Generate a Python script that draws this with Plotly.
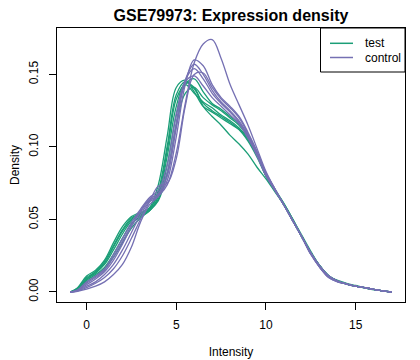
import plotly.graph_objects as go

x_grid = [-0.9, -0.5, 0, 0.5, 1, 1.5, 2, 2.5, 3, 3.5, 4, 4.5, 5, 5.5, 6, 6.5, 7, 7.5, 8, 8.5,
          9, 9.5, 10, 10.5, 11, 11.5, 12, 12.5, 13, 13.5, 14, 14.5, 15, 15.5, 16, 16.5, 17]

test_curves = [
    [0, 0.003, 0.011, 0.015, 0.022, 0.034, 0.045, 0.052, 0.055, 0.058, 0.074, 0.108, 0.141, 0.146, 0.138, 0.128, 0.124, 0.120, 0.116, 0.112, 0.105, 0.094, 0.081, 0.071, 0.061, 0.050, 0.038, 0.027, 0.018, 0.011, 0.0075, 0.0055, 0.004, 0.003, 0.0018, 0.0008, 0],
    [0, 0.002, 0.009, 0.013, 0.019, 0.029, 0.040, 0.049, 0.053, 0.056, 0.066, 0.094, 0.128, 0.144, 0.141, 0.128, 0.121, 0.115, 0.108, 0.102, 0.095, 0.086, 0.078, 0.069, 0.060, 0.050, 0.039, 0.028, 0.018, 0.011, 0.008, 0.006, 0.0045, 0.003, 0.0018, 0.0008, 0],
    [0, 0.002, 0.008, 0.012, 0.017, 0.026, 0.037, 0.047, 0.052, 0.056, 0.064, 0.088, 0.122, 0.143, 0.147, 0.138, 0.130, 0.126, 0.121, 0.116, 0.108, 0.096, 0.081, 0.070, 0.060, 0.049, 0.038, 0.027, 0.018, 0.011, 0.0075, 0.0055, 0.004, 0.0028, 0.0016, 0.0007, 0],
    [0, 0.002, 0.009, 0.014, 0.020, 0.031, 0.042, 0.050, 0.054, 0.057, 0.068, 0.098, 0.133, 0.143, 0.137, 0.131, 0.127, 0.122, 0.118, 0.113, 0.106, 0.095, 0.080, 0.070, 0.061, 0.050, 0.038, 0.027, 0.018, 0.011, 0.0075, 0.0055, 0.004, 0.003, 0.0018, 0.0008, 0],
    [0, 0.0015, 0.007, 0.011, 0.016, 0.024, 0.034, 0.044, 0.051, 0.056, 0.063, 0.082, 0.115, 0.137, 0.141, 0.134, 0.129, 0.125, 0.120, 0.115, 0.107, 0.095, 0.080, 0.070, 0.060, 0.049, 0.038, 0.027, 0.018, 0.011, 0.0075, 0.0055, 0.004, 0.0028, 0.0016, 0.0007, 0],
    [0, 0.0025, 0.010, 0.014, 0.021, 0.032, 0.043, 0.051, 0.054, 0.057, 0.070, 0.101, 0.136, 0.145, 0.140, 0.130, 0.125, 0.121, 0.117, 0.112, 0.104, 0.093, 0.080, 0.070, 0.060, 0.049, 0.038, 0.027, 0.018, 0.011, 0.0075, 0.0055, 0.004, 0.003, 0.0018, 0.0008, 0],
]

control_curves = [
    [0, 0.0005, 0.002, 0.004, 0.007, 0.012, 0.019, 0.031, 0.048, 0.060, 0.066, 0.074, 0.096, 0.130, 0.158, 0.171, 0.174, 0.161, 0.143, 0.129, 0.115, 0.099, 0.083, 0.071, 0.060, 0.049, 0.038, 0.026, 0.017, 0.010, 0.007, 0.0055, 0.004, 0.003, 0.0018, 0.0008, 0],
    [0, 0.001, 0.004, 0.007, 0.012, 0.019, 0.029, 0.041, 0.053, 0.062, 0.066, 0.077, 0.107, 0.143, 0.160, 0.156, 0.143, 0.134, 0.128, 0.121, 0.110, 0.097, 0.082, 0.071, 0.060, 0.049, 0.038, 0.026, 0.017, 0.010, 0.007, 0.0055, 0.004, 0.003, 0.0018, 0.0008, 0],
    [0, 0.001, 0.005, 0.009, 0.014, 0.022, 0.033, 0.045, 0.055, 0.063, 0.067, 0.080, 0.113, 0.146, 0.157, 0.150, 0.139, 0.131, 0.125, 0.118, 0.108, 0.095, 0.081, 0.070, 0.060, 0.049, 0.038, 0.027, 0.017, 0.011, 0.0075, 0.0055, 0.004, 0.003, 0.0018, 0.0008, 0],
    [0, 0.0012, 0.006, 0.010, 0.015, 0.024, 0.035, 0.046, 0.056, 0.064, 0.068, 0.083, 0.117, 0.146, 0.154, 0.147, 0.137, 0.130, 0.124, 0.117, 0.107, 0.094, 0.081, 0.070, 0.060, 0.049, 0.038, 0.027, 0.018, 0.011, 0.0075, 0.0055, 0.004, 0.003, 0.0018, 0.0008, 0],
    [0, 0.0015, 0.007, 0.011, 0.016, 0.026, 0.037, 0.048, 0.057, 0.065, 0.070, 0.088, 0.123, 0.145, 0.149, 0.142, 0.134, 0.128, 0.122, 0.116, 0.106, 0.094, 0.080, 0.070, 0.060, 0.049, 0.038, 0.027, 0.018, 0.011, 0.0075, 0.0055, 0.004, 0.003, 0.0018, 0.0008, 0],
    [0, 0.0008, 0.003, 0.006, 0.010, 0.016, 0.025, 0.037, 0.050, 0.062, 0.073, 0.075, 0.092, 0.128, 0.150, 0.151, 0.141, 0.133, 0.127, 0.120, 0.109, 0.096, 0.082, 0.071, 0.060, 0.049, 0.038, 0.026, 0.017, 0.010, 0.007, 0.0055, 0.004, 0.003, 0.0018, 0.0008, 0],
]

group_names = ["test", "control"]
group_colors = ["#1B9E77", "#7570B3"]
x_ticks = [0, 5, 10, 15]
y_ticks = [0.00, 0.05, 0.10, 0.15]
y_tick_labels = ["0.00", "0.05", "0.10", "0.15"]

FONT = "Liberation Sans, Arial, sans-serif"

# The page body has an 8px default margin: shrink the figure so it fits the window.
OFF = 8
FIG_W, FIG_H = 420 - OFF, 360 - OFF

fig = go.Figure()
for gi, curves in enumerate([test_curves, control_curves]):
    for ci, ys in enumerate(curves):
        fig.add_trace(go.Scatter(
            x=x_grid, y=ys, mode="lines",
            line=dict(color=group_colors[gi], width=1.3, shape="spline", smoothing=1.0),
            name=group_names[gi], legendgroup=group_names[gi],
            showlegend=False, hoverinfo="x+y+name",
        ))

axis_common = dict(
    showline=True, linecolor="black", linewidth=1, mirror=True,
    ticks="outside", ticklen=7, tickcolor="black", tickwidth=1,
    showgrid=False, zeroline=False, automargin=False,
    tickfont=dict(family=FONT, size=12, color="black"),
)

# Target plot box in window pixels
L, R_, T, B = 57, 405, 28, 302
W, H = R_ - L, B - T
def px_x(p):
    return (p - L) / W
def px_y(p):
    return (B - p) / H

shapes = [dict(type="rect", xref="paper", yref="paper",
               x0=px_x(320.5), x1=1.0, y0=px_y(72), y1=1.0,
               line=dict(color="black", width=1), fillcolor="white", layer="above")]
annotations = []
legend_rows_y = [43.3, 57.5]
for name, col, ry in zip(group_names, group_colors, legend_rows_y):
    shapes.append(dict(type="line", xref="paper", yref="paper",
                       x0=px_x(330), x1=px_x(353), y0=px_y(ry), y1=px_y(ry),
                       line=dict(color=col, width=1.5), layer="above"))
    annotations.append(dict(text=name, xref="paper", yref="paper",
                            x=px_x(363), y=px_y(ry), xanchor="left", yanchor="middle",
                            showarrow=False, font=dict(family=FONT, size=12, color="black")))

fig.update_layout(
    width=FIG_W, height=FIG_H,
    margin=dict(l=L - OFF, r=420 - R_, t=T - OFF, b=360 - B),
    paper_bgcolor="white", plot_bgcolor="white",
    title=dict(text="<b>GSE79973: Expression density</b>", x=0.5, xref="paper",
               xanchor="center", y=1 - (15.5 - OFF) / FIG_H, yanchor="middle", yref="container",
               font=dict(family=FONT, size=16, color="black")),
    xaxis=dict(range=[-1.65, 17.75], tickvals=x_ticks, ticklabelstandoff=5,
               title=dict(text="Intensity", standoff=16, font=dict(family=FONT, size=12, color="black")),
               **axis_common),
    yaxis=dict(range=[-0.0069, 0.182], tickvals=y_ticks, ticktext=y_tick_labels, tickangle=-90,
               ticklabelstandoff=6,
               title=dict(text="Density", standoff=18, font=dict(family=FONT, size=12, color="black")),
               **axis_common),
    shapes=shapes,
    annotations=annotations,
    showlegend=False,
)

fig.write_html("out.html")
